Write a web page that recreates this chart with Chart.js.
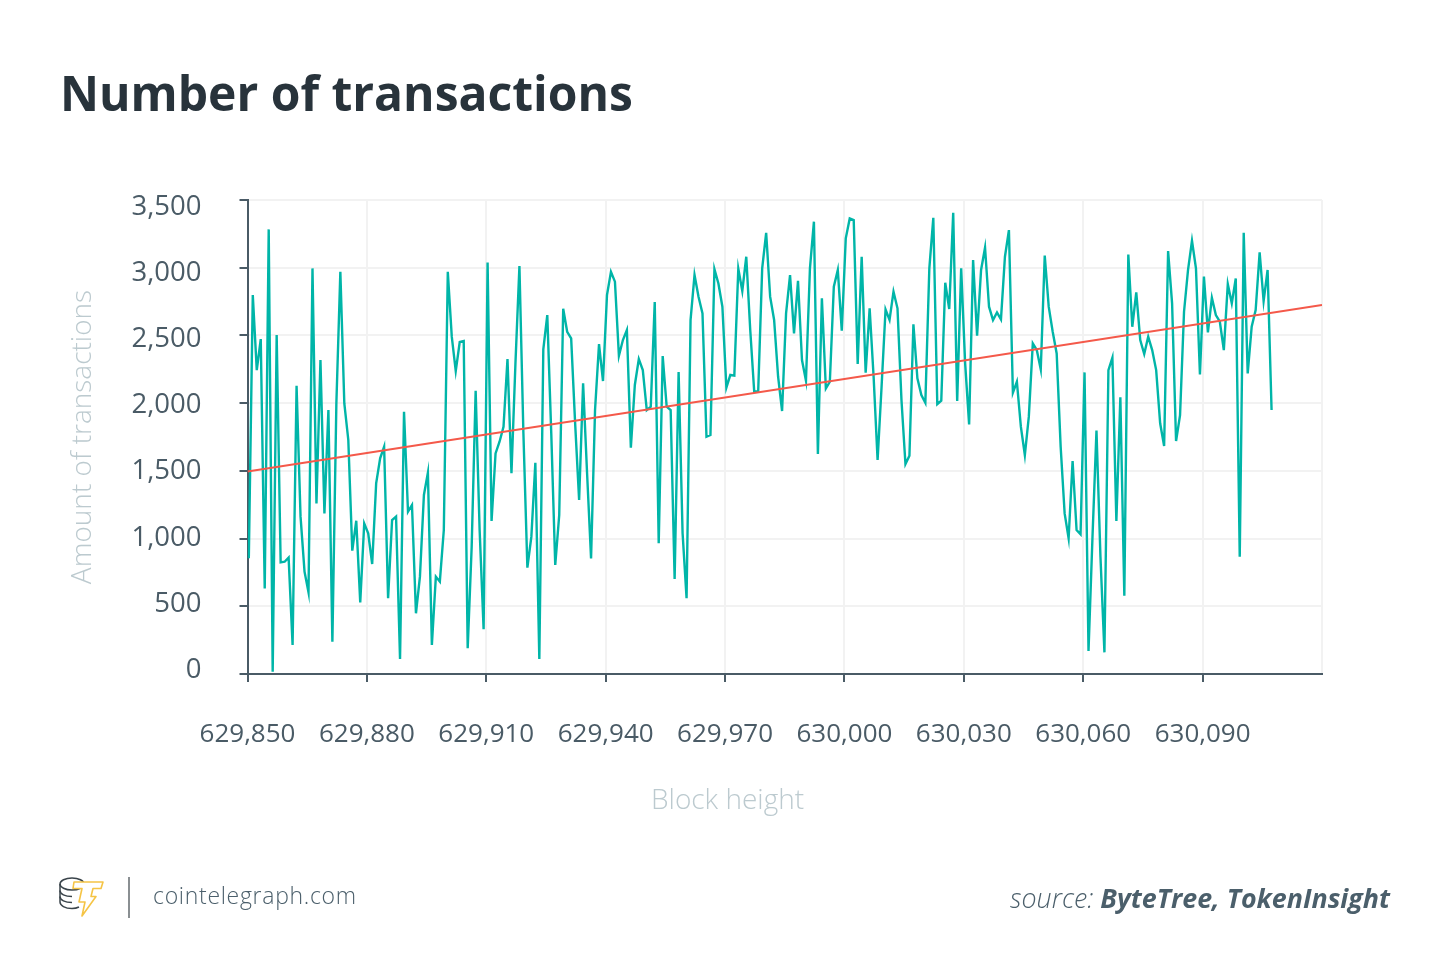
<!DOCTYPE html>
<html>
<head>
<meta charset="utf-8">
<title>Number of transactions</title>
<script src="https://cdn.jsdelivr.net/npm/chart.js@4/dist/chart.umd.min.js"></script>
<style>
  html, body { margin: 0; padding: 0; background: #fff; }
  body { position: relative; width: 1450px; height: 978px; overflow: hidden; font-family: "Open Sans", sans-serif; }
  canvas { position: absolute; left: 0; top: 0; }
  .txt { position: absolute; white-space: nowrap; }
  #title { left: 60px; top: 59px; font-size: 48px; font-weight: 700; color: #28333b; line-height: 68px; }
  #xTitle { left: 651px; top: 780px; font-size: 28px; font-weight: 300; color: #bccacf; line-height: 36px; }
  #site { left: 153px; top: 879px; font-size: 23px; font-weight: 300; color: #4b5f6b; line-height: 32px; letter-spacing: 0.7px; }
  #source { right: 60px; top: 879px; font-size: 26.8px; font-style: italic; font-weight: 300; color: #4b5f6b; line-height: 38px; }
  #source b { font-weight: 700; }
  #sep { position: absolute; left: 128px; top: 877px; width: 2px; height: 41px; background: #8a8f92; }
  #logo { position: absolute; left: 58px; top: 875px; }
</style>
</head>
<body>
<canvas id="chart" width="1450" height="978"></canvas>
<div class="txt" id="title">Number of transactions</div>
<div class="txt" id="xTitle">Block height</div>
<svg id="logo" width="48" height="44" viewBox="0 0 48 44" fill="none">
  <g stroke="#3a444b" stroke-width="1.5">
    <ellipse cx="14" cy="9" rx="12" ry="6"/>
    <path d="M2 9v18c0 3.500 5 6.500 12 6.500c3 0 5-.5 7-1.500"/>
    <path d="M2 15.500c0 3.500 5 6 12 6"/>
    <path d="M2 21.500c0 3.500 5 6 12 6"/>
  </g>
  <path d="M16 7h29l-2 6.500H35l-2 8h5L24 41l3-14h-6l3-13.500h-9z" fill="#fff" stroke="#f5c445" stroke-width="1.6" stroke-linejoin="round"/>
</svg>
<div id="sep"></div>
<div class="txt" id="site">cointelegraph.com</div>
<div class="txt" id="source">source: <b>ByteTree, TokenInsight</b></div>
<script>
window.onload = function() {
    // Data
    const firstBlock = 629850.33;
    const transactions = [
        854,2798,2244,2473,632,3283,17,2503,824,829,859,214,2129,1162,756,603,2995,1260,2318,1186,
        1949,239,1998,2970,1998,1728,911,1132,529,1112,1039,812,1408,1592,1678,559,1137,1162,111,1937,
        1199,1248,448,719,1322,1486,214,719,682,1063,2970,2491,2237,2451,2459,190,940,2092,1063,330,
        3039,1130,1629,1715,1826,2326,1482,2294,3012,
        1777,785,1014,1560,111,2397,2650,1777,805,1174,2697,2527,2478,1851,1285,2146,1482,854,1949,2436,
        2163,2798,2970,2897,2350,2466,2540,1671,2134,2326,2244,1949,1974,2746,965,2348,1974,1949,701,2230,
        1039,559,2614,2946,2786,2663,1752,1765,2990,2884,2712,2114,2208,2203,2993,2828,3081,2540,2084,2089,
        2995,3258,2786,2614,2195,1942,2663,2946,
        2515,2904,2318,2166,2995,3340,1624,2774,2109,2158,2860,2983,2535,3217,3364,3352,2289,3081,2225,2700,
        2195,1580,2121,2692,2614,2823,2700,2023,1550,1612,2582,2183,2060,2003,2995,3369,1993,2018,2889,2695,
        3406,2016,2995,2294,1843,3057,2498,2983,3148,2712,2614,2670,2618,3081,3278,2077,2158,1826,1617,1900,
        2441,2392,2249,3089,2712,2527,2367,
        1678,1186,1002,1573,1063,1031,2227,170,1014,1797,866,160,2244,2336,1130,2043,578,3098,2564,2818,
        2466,2363,2491,2392,2244,1851,1683,3123,2737,1720,1912,2675,2983,3199,2995,2212,2934,2523,2778,2650,
        2601,2392,2879,2737,2921,866,3258,2220,2564,2687,3113,2754,2983,1949
    ];
    const trendBlocks = [629850, 630120];
    const trendValues = [1495, 2725];
    const yTicks = [0, 500, 1000, 1500, 2000, 2500, 3000, 3500];

    const axisColor = "#4a5b66";
    const gridColor = "#f2f2f2";
    const fontFamily = "'Open Sans', sans-serif";

    const ctx = document.getElementById("chart").getContext("2d");
    new Chart(ctx, {
        type: "line",
        data: {
            datasets: [
                {
                    label: "Trend",
                    data: trendBlocks.map((b, i) => ({ x: b, y: trendValues[i] })),
                    borderColor: "#f4594a",
                    borderWidth: 2,
                    pointRadius: 0
                },
                {
                    label: "Number of transactions",
                    data: transactions.map((v, i) => ({ x: firstBlock + i, y: v })),
                    borderColor: "#00b5a8",
                    borderWidth: 2.4,
                    pointRadius: 0
                }
            ]
        },
        options: {
            responsive: false,
            devicePixelRatio: 1,
            animation: false,
            layout: { padding: { left: 66, right: 128, top: 200, bottom: 204 } },
            plugins: { legend: { display: false }, tooltip: { enabled: false } },
            scales: {
                x: {
                    type: "linear",
                    min: 629850,
                    max: 630120,
                    grid: {
                        color: gridColor,
                        lineWidth: 2,
                        tickLength: 8,
                        tickWidth: 2,
                        tickColor: c => (c.tick && c.tick.value === 630120 ? "transparent" : axisColor)
                    },
                    border: { color: axisColor, width: 2 },
                    ticks: {
                        stepSize: 30,
                        maxRotation: 0,
                        autoSkip: false,
                        padding: 37,
                        color: axisColor,
                        font: { family: fontFamily, size: 26 },
                        callback: v => (v === 630120 ? "" : v.toLocaleString("en-US"))
                    },
                    afterFit: s => { s.height = 100; }
                },
                y: {
                    min: 0,
                    max: 3500,
                    weight: 1,
                    grid: { color: gridColor, lineWidth: 2, tickLength: 8, tickWidth: 2, tickColor: axisColor },
                    border: { color: axisColor, width: 2 },
                    ticks: { display: false, stepSize: 500 },
                    afterFit: s => { s.width = 8; }
                },
                // labels sit slightly off the tick marks in the reference, so they get their own axis
                yLabels: {
                    type: "linear",
                    axis: "y",
                    position: "left",
                    weight: 2,
                    min: -30,
                    max: 3553,
                    grid: { display: false },
                    border: { display: false },
                    ticks: {
                        padding: 30,
                        color: axisColor,
                        font: { family: fontFamily, size: 27.5 },
                        callback: v => v.toLocaleString("en-US")
                    },
                    afterBuildTicks: s => { s.ticks = yTicks.map(v => ({ value: v })); },
                    title: {
                        display: true,
                        text: "Amount of transactions",
                        color: "#bccacf",
                        font: { family: fontFamily, size: 28, weight: "300" },
                        padding: 0
                    },
                    afterFit: s => { s.width = 173.5; }
                }
            }
        }
    });
};
</script>
</body>
</html>
